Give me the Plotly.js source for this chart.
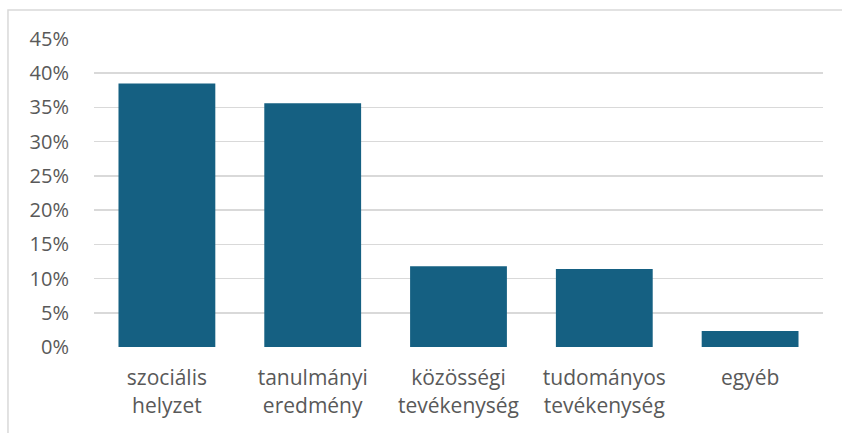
<!DOCTYPE html>
<html>
<head>
<meta charset="utf-8">
<script src="https://cdn.plot.ly/plotly-3.0.1.min.js"></script>
<style>
  html, body { margin: 0; padding: 0; background: #ffffff; }
  #chart { width: 842px; height: 433px; }
</style>
</head>
<body>
<div id="chart"></div>
<script>
const categories = ["szociális<br>helyzet", "tanulmányi<br>eredmény", "közösségi<br>tevékenység", "tudományos<br>tevékenység", "egyéb"];
const values = [38.5, 35.6, 11.8, 11.4, 2.35];
const yTickValues = [0, 5, 10, 15, 20, 25, 30, 35, 40, 45];
const yTickLabels = yTickValues.map(v => v + "%");

const fontFamily = "'Open Sans', 'Noto Sans', sans-serif";
const textColor = "#595959";

const trace = {
  type: "bar",
  x: categories,
  y: values,
  marker: { color: "#156082" },
  hoverinfo: "skip"
};

const layout = {
  width: 842,
  height: 433,
  margin: { l: 94, r: 19, t: 39, b: 86 },
  paper_bgcolor: "#ffffff",
  plot_bgcolor: "#ffffff",
  bargap: 0.336,
  showlegend: false,
  font: { family: fontFamily, color: textColor, size: 20 },
  xaxis: {
    type: "category",
    showgrid: false,
    showline: false,
    zeroline: false,
    ticks: "outside",
    ticklen: 12,
    tickcolor: "rgba(0,0,0,0)",
    tickfont: { family: fontFamily, color: textColor, size: 21 }
  },
  yaxis: {
    range: [0, 45],
    tickmode: "array",
    tickvals: yTickValues,
    ticktext: yTickLabels,
    showgrid: true,
    gridcolor: "#d9d9d9",
    gridwidth: 1.5,
    zeroline: false,
    showline: false,
    ticks: "outside",
    ticklen: 20,
    tickcolor: "rgba(0,0,0,0)",
    tickfont: { family: fontFamily, color: textColor, size: 20 }
  },
  shapes: [{
    type: "rect",
    xref: "paper", yref: "paper",
    x0: -0.118, x1: 1.6,
    y0: -0.6, y1: 1.094,
    line: { color: "#d9d9d9", width: 1.5 },
    fillcolor: "rgba(0,0,0,0)",
    layer: "below"
  }]
};

Plotly.newPlot("chart", [trace], layout, { displayModeBar: false, staticPlot: true });
</script>
</body>
</html>
